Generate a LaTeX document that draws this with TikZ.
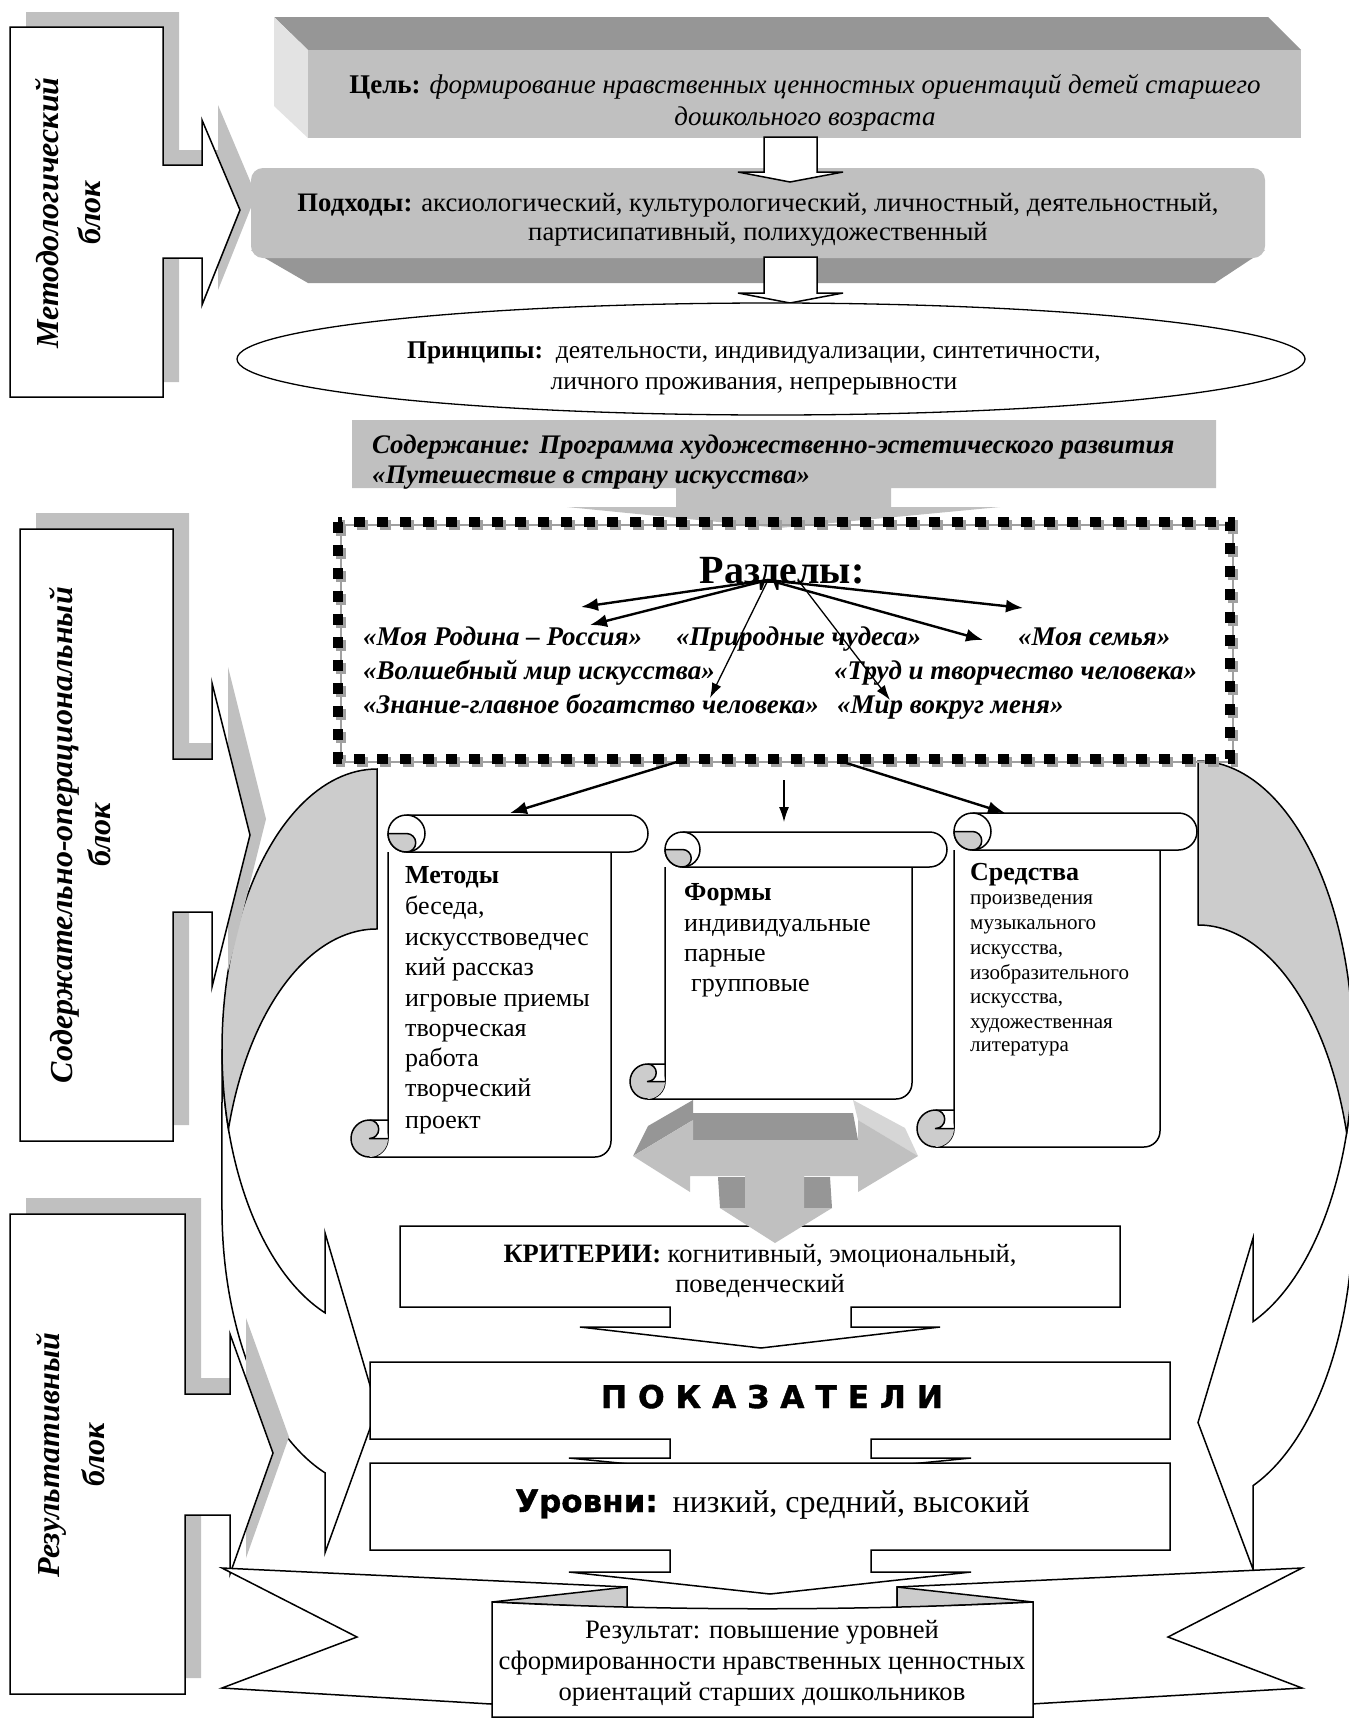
\documentclass[tikz,border=0pt]{standalone}
\usepackage{fontspec}
\setmainfont{Liberation Serif}
\newfontfamily\blkfont{DejaVu Sans}[BoldFeatures={FakeBold=1.2}]
\usetikzlibrary{arrows.meta}
\definecolor{lg}{HTML}{C0C0C0}
\definecolor{dg}{HTML}{969696}
\definecolor{xg}{HTML}{E3E3E3}
\definecolor{sg}{HTML}{CCCCCC}
\definecolor{mg}{HTML}{D6D6D6}
\definecolor{tg}{HTML}{A0A0A0}
\newcommand\fsz[2]{\fontsize{#1}{#2}\selectfont}
\newcommand\scrollshp[5]{%
 \pgfmathsetmacro\scxa{#1}\pgfmathsetmacro\scya{#2}%
 \pgfmathsetmacro\scxb{#3}\pgfmathsetmacro\scyb{#4}%
 \pgfmathsetmacro\sch{#5/2}\pgfmathsetmacro\scq{#5/4}%
 \pgfmathsetmacro\scbx{#1+#5}\pgfmathsetmacro\scby{#2+#5}%
 \pgfmathsetmacro\scrx{#3-#5}\pgfmathsetmacro\scrc{#3-#5-16}%
 \pgfmathsetmacro\sccl{#1+#5/2}\pgfmathsetmacro\sccy{#4-#5/2}%
 \pgfmathsetmacro\sctop{#4-#5}\pgfmathsetmacro\scbw{#1+#5-1}%
 \pgfmathsetmacro\sctx{#1+1.5*#5}\pgfmathsetmacro\scty{#2+#5/2}%
 \pgfmathsetmacro\scrr{#3-#5/2}%
 \filldraw[scr] (\scbx,\scby) -- (\scbx,\sccy) arc[start angle=0,end angle=90,radius=\sch] -- (\scrc,\scyb) arc[start angle=90,end angle=0,radius=16] -- (\scrx,\scby);
 \filldraw[scr] (\sctx,\scya) -- (\scrr,\scya) arc[start angle=-90,end angle=90,radius=\sch] -- (\sctx,\scby) arc[start angle=90,end angle=270,radius=\sch] -- cycle;
 \draw[scr,fill=none] (\sctx,\scya) arc[start angle=-90,end angle=90,radius=\sch];
 \filldraw[scr,fill=sg] (\scbx,\scty) arc[start angle=180,end angle=90,radius=\sch] arc[start angle=90,end angle=-90,radius=\scq] -- cycle;
 \fill[sg] (\sccl,\sccy) circle[radius=\sch];
 \fill[white] (\sccl,\sctop) -- (\scbw,\sctop) -- (\scbw,\sccy) -- (\sccl,\sccy) arc[start angle=90,end angle=-90,radius=\scq] -- cycle;
 \draw[scr,fill=none] (\scbx,\sctop) -- (\sccl,\sctop) arc[start angle=-90,end angle=-270,radius=\sch];
 \draw[scr,fill=none] (\scbx,\sccy) -- (\sccl,\sccy) arc[start angle=90,end angle=-90,radius=\scq];
}
\begin{document}
\begin{tikzpicture}[x=1pt,y=-1pt,
  ol/.style={draw=black,line width=1.5pt,fill=white,line join=miter},
  scr/.style={draw=black,line width=1.5pt,fill=white,line join=round},
  txt/.style={inner sep=0pt,anchor=base},
  txtw/.style={inner sep=0pt,anchor=base west},
  arrthick/.style={-{Latex[length=17pt,width=13pt]},line width=2.4pt},
  arrthin/.style={-{Latex[length=15pt,width=10pt]},line width=1.3pt}]
\useasboundingbox (0,0) rectangle (1349,1719);
\fill[white] (0,0) rectangle (1349,1719);

% ---- curved arrows (behind)
\filldraw[ol] (222,1049) arc[start angle=180,end angle=109.6,x radius=155,y radius=280] -- (325,1232.8) -- (377,1409) -- (325,1552.8) -- (325,1472.8) arc[start angle=109.6,end angle=180,x radius=155,y radius=280] -- cycle;
\filldraw[ol,fill=sg] (377,769) arc[start angle=270,end angle=163.4,x radius=155,y radius=280] arc[start angle=196.6,end angle=270,x radius=155,y radius=280] -- cycle;
\filldraw[ol] (1353,1050.75) arc[start angle=0,end angle=69.22,x radius=155,y radius=289.75] -- (1253,1238.15) -- (1198,1422.5) -- (1253,1569.15) -- (1253,1485.65) arc[start angle=69.22,end angle=0,x radius=155,y radius=289.75] -- cycle;
\filldraw[ol,fill=sg] (1198,761) arc[start angle=-90,end angle=16.44,x radius=155,y radius=289.75] arc[start angle=-16.44,end angle=-90,x radius=155,y radius=289.75] -- cycle;

% ---- left blocks
\fill[lg] (26,12) -- (179,12) -- (179,150) -- (218,150) -- (218,105) -- (256,195) -- (218,290) -- (218,243) -- (179,243) -- (179,382) -- (26,382) -- cycle;
\filldraw[ol] (10,27) -- (163,27) -- (163,165) -- (202,165) -- (202,120) -- (240,210) -- (202,305) -- (202,258) -- (163,258) -- (163,397) -- (10,397) -- cycle;
\fill[lg] (36,513) -- (189,513) -- (189,743) -- (228,743) -- (228,667) -- (266,819) -- (228,971) -- (228,896) -- (189,896) -- (189,1125) -- (36,1125) -- cycle;
\filldraw[ol] (20,529) -- (173,529) -- (173,759) -- (212,759) -- (212,683) -- (250,835) -- (212,987) -- (212,912) -- (173,912) -- (173,1141) -- (20,1141) -- cycle;
\fill[lg] (26,1198) -- (201,1198) -- (201,1378) -- (246,1378) -- (246,1318) -- (289,1437) -- (246,1558) -- (246,1499) -- (201,1499) -- (201,1678) -- (26,1678) -- cycle;
\filldraw[ol] (10,1214) -- (185,1214) -- (185,1394) -- (230,1394) -- (230,1334) -- (273,1453) -- (230,1574) -- (230,1515) -- (185,1515) -- (185,1694) -- (10,1694) -- cycle;
\node[txt,rotate=90,font=\fsz{32}{38}\bfseries\itshape] (mb1) at (58,213) {Методологический};
\node[txt,rotate=90,font=\fsz{32}{38}\bfseries\itshape] (mb2) at (100,213) {блок};
\node[txt,rotate=90,font=\fsz{32}{38}\bfseries\itshape] (sb1) at (72,835) {Содержательно-операциональный};
\node[txt,rotate=90,font=\fsz{32}{38}\bfseries\itshape] (sb2) at (110,835) {блок};
\node[txt,rotate=90,font=\fsz{32}{38}\bfseries\itshape] (rb1) at (59,1455) {Результативный};
\node[txt,rotate=90,font=\fsz{32}{38}\bfseries\itshape] (rb2) at (104,1455) {блок};

% ---- goal 3D box
\fill[dg] (274,17) -- (1268,17) -- (1301,50) -- (308,50) -- cycle;
\fill[xg] (274,17) -- (308,50) -- (308,138) -- (274,106) -- cycle;
\fill[lg] (308,50) rectangle (1301,138);
\node[txt] (goal1) at (805,93) {\fsz{27}{31}\textbf{Цель:} \textit{формирование нравственных ценностных ориентаций детей старшего}};
\node[txt] (goal2) at (805,125) {\fsz{27}{31}\textit{дошкольного возраста}};

% ---- approaches
\fill[dg] (251,250) -- (1265,250) -- (1215,283) -- (308,283) -- cycle;
\fill[lg,rounded corners=12pt] (251,168) rectangle (1265,258);
\node[txt] (appr1) at (758,211) {\fsz{26.7}{30}\textbf{Подходы:} аксиологический, культурологический, личностный, деятельностный,};
\node[txt] (appr2) at (758,240) {\fsz{26.7}{30}партисипативный, полихудожественный};
\draw[ol] (764,137) -- (817,137) -- (817,172) -- (843,172) -- (790,182) -- (738,172) -- (764,172) -- cycle;
\draw[ol] (764,257) -- (817,257) -- (817,293) -- (843,293) -- (790,303) -- (738,293) -- (764,293) -- cycle;

% ---- principles
\filldraw[ol,line width=1.3pt] (771,359) ellipse[x radius=534,y radius=56];
\node[txt] (pr1) at (754,358) {\fsz{25.5}{28}\textbf{Принципы:}\ \ деятельности, индивидуализации, синтетичности,};
\node[txt] (pr2) at (754,389) {\fsz{25.5}{28}личного проживания, непрерывности};

% ---- content
\fill[lg] (352,420) -- (1216,420) -- (1216,488) -- (891,488) -- (891,507) -- (1000,507) -- (779,528) -- (567,507) -- (676,507) -- (676,488) -- (352,488) -- cycle;
\node[txtw] (cont1) at (372,453) {\fsz{26.8}{30}\bfseries\itshape Содержание: Программа художественно-эстетического развития};
\node[txtw] (cont2) at (372,483) {\fsz{26.8}{30}\bfseries\itshape «Путешествие в страну искусства»};

% ---- sections frame
\draw[line width=1.5pt,color=tg] (341,525) rectangle (1233,762);
\draw[line width=10pt,dash pattern=on 11pt off 12pt,color=tg] (341,525) rectangle (1233,762);
\draw[line width=10pt,dash pattern=on 11pt off 12pt] (338,522) rectangle (1230,759);
\node[txt] (razd) at (782,583) {\fsz{40}{46}\bfseries Разделы:};
\node[txtw] (s1) at (363,645) {\fsz{27}{30}\bfseries\itshape «Моя Родина – Россия»};
\node[txtw] (s2) at (676,645) {\fsz{27}{30}\bfseries\itshape «Природные чудеса»};
\node[txtw] (s3) at (1018,645) {\fsz{27}{30}\bfseries\itshape «Моя семья»};
\node[txtw] (s4) at (363,679) {\fsz{27}{30}\bfseries\itshape «Волшебный мир искусства»};
\node[txtw] (s5) at (834,679) {\fsz{27}{30}\bfseries\itshape «Труд и творчество человека»};
\node[txtw] (s6) at (363,713) {\fsz{27}{30}\bfseries\itshape «Знание-главное богатство человека»};
\node[txtw] (s7) at (837,713) {\fsz{27}{30}\bfseries\itshape «Мир вокруг меня»};
\coordinate (rz) at (768,580);
\coordinate (rz2) at (798,580);
\coordinate (ta) at (581,607);
\coordinate (tb) at (590,625);
\coordinate (tc) at (710,698);
\coordinate (td) at (890,700);
\coordinate (te) at (983,640);
\coordinate (tf) at (1023,608);
\draw[arrthick] (rz) -- (ta);
\draw[arrthick] (rz) -- (tb);
\draw[arrthin] (rz) -- (tc);
\draw[arrthin] (rz2) -- (td);
\draw[arrthick] (rz) -- (te);
\draw[arrthick] (rz) -- (tf);

% ---- scrolls
\scrollshp{351}{815}{648}{1157}{37}
\scrollshp{630}{832}{947}{1099}{35}
\scrollshp{917}{813}{1197}{1147}{37}
\coordinate (fa) at (680,761);
\coordinate (fb) at (510,813);
\coordinate (fc) at (784,780);
\coordinate (fd) at (784,822);
\coordinate (fe) at (840,761);
\coordinate (ff) at (1005,813);
\draw[arrthick] (fa) -- (fb);
\draw[arrthin] (fc) -- (fd);
\draw[arrthick] (fe) -- (ff);
\node[txtw] (m0) at (405,883) {\fsz{26}{30}\textbf{Методы}};
\node[txtw] (m1) at (405,914) {\fsz{26}{30}беседа,};
\node[txtw] (m2) at (405,945) {\fsz{26}{30}искусствоведчес};
\node[txtw] (m3) at (405,975) {\fsz{26}{30}кий рассказ};
\node[txtw] (m4) at (405,1006) {\fsz{26}{30}игровые приемы};
\node[txtw] (m5) at (405,1036) {\fsz{26}{30}творческая};
\node[txtw] (m6) at (405,1066) {\fsz{26}{30}работа};
\node[txtw] (m7) at (405,1096) {\fsz{26}{30}творческий};
\node[txtw] (m8) at (405,1128) {\fsz{26}{30}проект};
\node[txtw] (f0) at (684,900) {\fsz{26}{30}\textbf{Формы}};
\node[txtw] (f1) at (684,931) {\fsz{26}{30}индивидуальные};
\node[txtw] (f2) at (684,961) {\fsz{26}{30}парные};
\node[txtw] (f3) at (691,991) {\fsz{26}{30}групповые};
\node[txtw] (c0) at (970,880) {\fsz{26}{30}\textbf{Средства}};
\node[txtw] (c1) at (970,904) {\fsz{21}{24}произведения};
\node[txtw] (c2) at (970,929) {\fsz{21}{24}музыкального};
\node[txtw] (c3) at (970,954) {\fsz{21}{24}искусства,};
\node[txtw] (c4) at (970,979) {\fsz{21}{24}изобразительного};
\node[txtw] (c5) at (970,1003) {\fsz{21}{24}искусства,};
\node[txtw] (c6) at (970,1028) {\fsz{21}{24}художественная};
\node[txtw] (c7) at (970,1051) {\fsz{21}{24}литература};

% ---- criteria box
\filldraw[ol] (400,1226) -- (1120,1226) -- (1120,1307) -- (851,1307) -- (851,1327) -- (940,1327) -- (761,1348) -- (580,1327) -- (670,1327) -- (670,1307) -- (400,1307) -- cycle;
\node[txt] (kr1) at (760,1262) {\fsz{26.5}{29}\textbf{КРИТЕРИИ:} когнитивный, эмоциональный,};
\node[txt] (kr2) at (760,1292) {\fsz{26.5}{29}поведенческий};

% ---- T arrow (3D)
\fill[dg] (633,1156) -- (648,1126) -- (693,1100) -- (693,1120) -- cycle;
\fill[dg] (690,1113) -- (853,1113) -- (858,1140) -- (693,1140) -- cycle;
\fill[mg] (853,1100) -- (905,1128) -- (918,1156) -- (858,1120) -- cycle;
\fill[dg] (718,1177) -- (745,1177) -- (745,1208) -- (720,1208) -- cycle;
\fill[dg] (804,1177) -- (830,1177) -- (832,1208) -- (804,1208) -- cycle;
\fill[lg] (633,1156) -- (693,1120) -- (693,1140) -- (858,1140) -- (858,1120) -- (918,1156) -- (858,1192) -- (858,1176) -- (804,1176) -- (804,1208) -- (832,1208) -- (775,1243) -- (720,1208) -- (745,1208) -- (745,1176) -- (690,1176) -- (690,1192) -- cycle;

% ---- ribbon
\filldraw[ol] (222,1568) -- (627,1587) -- (627,1650) -- (491,1704) -- (222,1688) -- (357,1637) -- cycle;
\filldraw[ol] (1302,1568) -- (897,1587) -- (897,1650) -- (1031,1704) -- (1302,1688) -- (1168,1637) -- cycle;
\filldraw[ol,fill=sg] (492,1602) -- (627,1587) -- (627,1608) -- cycle;
\filldraw[ol,fill=sg] (1033,1602) -- (897,1587) -- (897,1608) -- cycle;
\filldraw[ol] (492,1602) .. controls (670,1611) and (855,1611) .. (1033,1602) -- (1033,1717) -- (492,1717) -- cycle;
\node[txt] (res1) at (762,1638) {\fsz{26.6}{31}Результат: повышение уровней};
\node[txt] (res2) at (762,1669) {\fsz{26.6}{31}сформированности нравственных ценностных};
\node[txt] (res3) at (762,1700) {\fsz{26.6}{31}ориентаций старших дошкольников};

% ---- indicators and levels
\filldraw[ol] (370,1362) -- (1170,1362) -- (1170,1439) -- (871,1439) -- (871,1458) -- (971,1458) -- (770,1478) -- (569,1458) -- (670,1458) -- (670,1439) -- (370,1439) -- cycle;
\node[txt] (pok) at (772,1408) {\fsz{31.3}{34}\blkfont\bfseries П О К А З А Т Е Л И};
\filldraw[ol] (370,1463) -- (1170,1463) -- (1170,1550) -- (871,1550) -- (871,1572) -- (971,1572) -- (770,1594) -- (569,1572) -- (670,1572) -- (670,1550) -- (370,1550) -- cycle;
\node[txtw] (lev) at (515,1512) {{\fsz{31}{34}\blkfont\bfseries Уровни:}\hspace{15pt}{\fsz{32}{34}низкий, средний, высокий}};
\end{tikzpicture}
\end{document}
